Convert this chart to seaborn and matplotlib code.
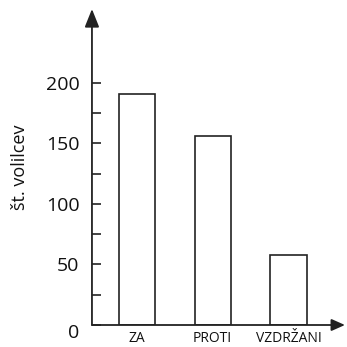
import matplotlib
matplotlib.use("Agg")
import matplotlib.pyplot as plt
import matplotlib.transforms as mtransforms
import pandas as pd
import seaborn as sns
from matplotlib.ticker import FixedLocator

categories = ["ZA", "PROTI", "VZDRŽANI"]
votes = [191, 156, 58]
ylabel = "št. volilcev"
major_ticks = [0, 50, 100, 150, 200]
minor_ticks = [25, 75, 125, 175]

df = pd.DataFrame({"odgovor": categories, "glasovi": votes})

sns.set_style("ticks")
plt.rcParams['font.family'] = ['Open Sans', 'DejaVu Sans']

fig = plt.figure(figsize=(3.47, 3.47), dpi=100)
ax = fig.add_axes([0.265, 0.0634, 0.729, 0.9106])

sns.barplot(data=df, x="odgovor", y="glasovi", color="white", edgecolor="#222222",
            linewidth=1.2, width=0.48, ax=ax)

ax.set_xlim(-0.594, 2.746)
ax.set_ylim(0, 261)

for s in ax.spines.values():
    s.set_visible(False)

line_col = "#222222"
ax.annotate('', xy=(0, 1), xytext=(0, 0), xycoords='axes fraction',
            arrowprops=dict(arrowstyle='-|>,head_length=0.55,head_width=0.22',
                            lw=1.3, color=line_col, mutation_scale=20,
                            shrinkA=0, shrinkB=0))
ax.annotate('', xy=(1, 0), xytext=(0, 0), xycoords='axes fraction',
            arrowprops=dict(arrowstyle='-|>,head_length=0.45,head_width=0.2',
                            lw=1.3, color=line_col, mutation_scale=18,
                            shrinkA=0, shrinkB=0))

ax.yaxis.set_major_locator(FixedLocator(major_ticks))
ax.yaxis.set_minor_locator(FixedLocator(minor_ticks))
ax.tick_params(axis='y', which='both', direction='in', length=6.5, width=1.2,
               color=line_col, pad=9, labelsize=14, labelcolor="#111111")
ax.tick_params(axis='y', which='minor', labelleft=False)
ax.tick_params(axis='x', length=0, pad=4, labelsize=10, labelcolor="#111111")

# the zero label sits a little below the axis line
lbl0 = ax.get_yticklabels()[0]
lbl0.set_transform(lbl0.get_transform() + mtransforms.ScaledTranslation(0, -6 / 100, fig.dpi_scale_trans))

ax.set_xlabel("")
ax.set_ylabel(ylabel, fontsize=13, color="#111111", labelpad=12)

fig.savefig("out.png", dpi=100)
